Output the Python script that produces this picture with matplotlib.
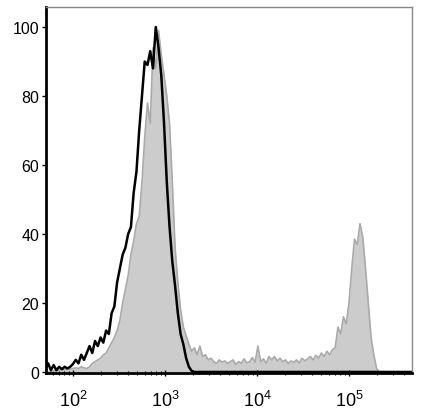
import matplotlib
matplotlib.use('Agg')
import matplotlib.pyplot as plt
import numpy as np

plt.rcParams['font.family'] = ['Liberation Sans', 'DejaVu Sans']

# bin centres in log10 units, step 0.03 starting at 1.70
log_start = 1.70
log_step = 0.03

# grey filled histogram (stained sample)
gray_counts = [
    0, 0, 0, 0.3, 0.5, 0.5, 0.8, 0.5, 1.0, 0.8,
    1.0, 1.2, 1.0, 1.5, 1.2, 1.0, 1.5, 2.5, 3.0, 3.5,
    4.0, 5.0, 5.5, 7.0, 8.5, 10.0, 12.0, 15.0, 20.0, 24.0,
    28.0, 34.0, 38.0, 43.0, 45.0, 55.0, 68.0, 78.0, 72.0, 94.0,
    88.0, 99.0, 92.0, 86.0, 80.0, 72.0, 55.0, 36.0, 26.0, 18.0,
    13.0, 10.5, 8.0, 6.0, 7.0, 5.0, 7.5, 4.5, 5.0, 3.5,
    4.0, 3.0, 2.5, 3.5, 2.8, 3.2, 2.5, 3.0, 3.5, 2.2,
    3.0, 2.5, 3.8, 2.6, 3.0, 4.2, 2.8, 7.5, 3.0, 3.8,
    2.5, 4.5, 3.5, 4.5, 3.2, 4.0, 3.0, 3.5, 2.5, 3.2,
    2.8, 3.5, 2.6, 4.0, 3.2, 3.8, 4.5, 3.5, 4.8, 4.0,
    5.5, 4.5, 6.0, 5.0, 6.5, 7.0, 13.0, 11.0, 16.0, 14.0,
    20.0, 30.0, 38.5, 37.0, 43.0, 39.0, 30.0, 20.0, 10.0, 5.0,
    1.0, 0, 0, 0, 0, 0, 0, 0, 0, 0,
    0, 0,
]

# black line histogram (control)
black_counts = [
    1.0, 2.5, 0.5, 2.0, 0.5, 1.5, 0.8, 1.5, 1.0, 1.5,
    2.3, 3.5, 2.5, 5.0, 3.5, 5.5, 7.5, 5.5, 9.0, 7.5,
    10.0, 8.5, 12.0, 11.0, 17.0, 19.0, 26.0, 30.0, 34.0, 36.0,
    40.0, 42.0, 52.0, 58.0, 70.0, 80.0, 90.0, 89.0, 93.0, 88.0,
    100.0, 94.0, 86.0, 72.0, 55.0, 42.0, 32.0, 25.0, 17.0, 11.0,
    8.0, 4.0, 1.5, 0.3, 0,
]

x_gray = 10 ** (log_start + log_step * np.arange(len(gray_counts)))
x_black = 10 ** (log_start + log_step * np.arange(len(black_counts)))
x_black = np.append(x_black, 10 ** 5.7)
black_counts = black_counts + [0]

fig = plt.figure(figsize=(4.22, 4.14), dpi=100)
ax = fig.add_axes([46/422, 1-374/414, 366/422, 366/414])

ax.fill_between(x_gray, gray_counts, 0, color='#cccccc', lw=0)
ax.plot(x_gray, gray_counts, color='#aaaaaa', lw=1.2)
ax.plot(x_black, black_counts, color='black', lw=1.8)

ax.set_xscale('log')
ax.set_xlim(10 ** 1.707, 10 ** 5.685)
ax.set_ylim(-0.3, 105.8)
ax.set_yticks([0, 20, 40, 60, 80, 100])
ax.set_xticks([1e2, 1e3, 1e4, 1e5])

for s in ['left', 'bottom']:
    ax.spines[s].set_color('black')
    ax.spines[s].set_linewidth(2)
for s in ['top', 'right']:
    ax.spines[s].set_color('#888888')
    ax.spines[s].set_linewidth(1)

ax.tick_params(axis='y', direction='out', length=3, width=1, pad=2, labelsize=11.5)
ax.tick_params(axis='x', which='major', direction='inout', length=5, width=1, pad=10, labelsize=13)
ax.tick_params(axis='x', which='minor', direction='inout', length=3, width=0.8)

fig.savefig('out.png', dpi=100)
